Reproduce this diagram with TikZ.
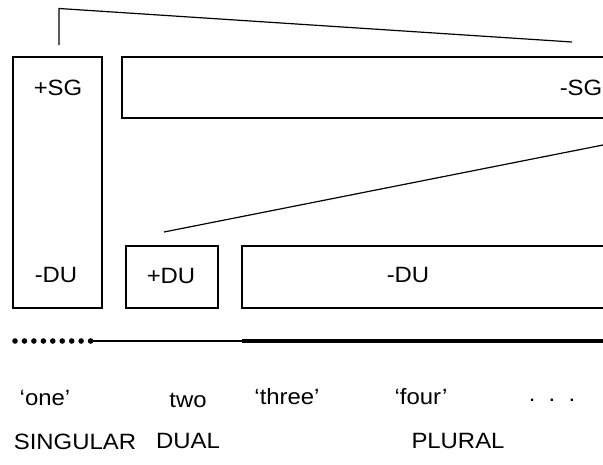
\documentclass[tikz,border=0pt]{standalone}
\usepackage{fontspec}
\setmainfont{Liberation Sans}[FakeStretch=1.08]
\begin{document}
\begin{tikzpicture}[x=0.75pt,y=-0.75pt,
  box/.style={draw,line width=0.9pt},
  lbl/.style={font=\fontsize{16.6}{19}\selectfont,inner sep=0pt,anchor=center},
  link/.style={line width=0.9pt},
  dotmark/.style={circle,fill,inner sep=0pt,minimum size=4.2pt}]
\useasboundingbox (0,0) rectangle (603,464);
\begin{scope}
\clip (0,0) rectangle (603,464);
% feature boxes
\draw[box] (13,57) rectangle (102,308);
\draw[box] (122,57) rectangle (640,118);
\draw[box] (126,246) rectangle (218,308);
\draw[box] (242,246) rectangle (640,308);
\node[lbl] (psg) at (58,88) {+SG};
\node[lbl] (mdu1) at (56,275) {-DU};
\node[lbl] (msg) at (581,88) {-SG};
\node[lbl] (pdu) at (171,276) {+DU};
\node[lbl] (mdu2) at (408,275) {-DU};
% branching lines
\coordinate (a0) at (59,45);
\coordinate (a1) at (59,8.5);
\coordinate (a2) at (572,42);
\draw[link] (a0) -- (a1) -- (a2);
\coordinate (b0) at (164,232);
\coordinate (b1) at (603,145);
\draw[link] (b0) -- (b1);
% number line
\foreach \i in {0,...,8} {
  \node[dotmark] (d\i) at ({15+9.45*\i},341) {};
}
\coordinate (t1) at (242,341);
\coordinate (t2) at (610,341);
\draw[line width=1.3pt] (d8.center) -- (t1);
\draw[line width=3.2pt] (t1) -- (t2);
\end{scope}
% numerals
\node[lbl] (one) at (45,398) {‘one’};
\node[lbl] (two) at (188,400) {two};
\node[lbl] (three) at (287,397) {‘three’};
\node[lbl] (four) at (421,397) {‘four’};
\node[lbl] (etc) at (552,400) {.\ \ .\ \ .};
% categories
\node[lbl] (sing) at (75,442) {SINGULAR};
\node[lbl] (dual) at (188,441) {DUAL};
\node[lbl] (plur) at (458,441) {PLURAL};
\end{tikzpicture}
\end{document}
